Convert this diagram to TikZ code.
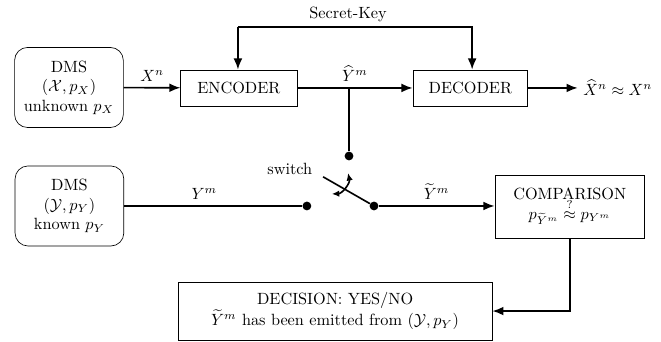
\documentclass[tikz,border=0pt]{standalone}
\usepackage{amsmath,amssymb}
\usetikzlibrary{arrows.meta}
\tikzset{
  block/.style={draw, rectangle, align=center},
  source/.style={draw, rectangle, rounded corners=8pt, align=center, minimum width=2.35cm, minimum height=1.73cm},
  dot/.style={circle, fill, inner sep=0pt, minimum size=0.19cm},
  wire/.style={line width=1pt},
  link/.style={wire, -{Latex[length=2.4mm,width=1.9mm]}}
}
\begin{document}
\begin{tikzpicture}
\useasboundingbox (0,0) rectangle (14.28,-7.37);
% sources
\node[source] (dmsx) at (1.49,-1.89) {DMS\\$(\mathcal{X},p_X)$\\unknown $p_X$};
\node[source] (dmsy) at (1.50,-4.45) {DMS\\$(\mathcal{Y},p_Y)$\\known $p_Y$};
% coder blocks
\node[block, minimum width=2.51cm, minimum height=0.78cm] (enc) at (5.16,-1.90) {ENCODER};
\node[block, minimum width=2.48cm, minimum height=0.78cm] (dec) at (10.16,-1.90) {DECODER};
\node[block, minimum width=3.24cm, minimum height=1.36cm] (comp) at (12.31,-4.46) {COMPARISON\\[-2pt]$p_{\widetilde{Y}^m}\stackrel{?}{\approx}p_{Y^m}$};
\node[block, minimum width=6.78cm, minimum height=1.25cm] (decis) at (7.24,-6.72) {DECISION: YES/NO\\$\widetilde{Y}^m$ has been emitted from $(\mathcal{Y},p_Y)$};
% secret key
\coordinate (keyl) at (5.14,-0.58);
\coordinate (keyr) at (10.20,-0.58);
\node (key) at (7.52,-0.32) {Secret-Key};
\draw[link] (keyl) -- (keyr) -- (dec.north -| keyr);
\draw[link] (keyl) -- (enc.north -| keyl);
% main chain
\draw[link] (dmsx) -- node[above]{$X^n$} (enc);
\draw[link] (enc) -- node[above]{$\widehat{Y}^m$} (dec);
\node[anchor=west] (out) at (12.48,-1.90) {$\widehat{X}^n\approx X^n$};
\draw[link] (dec) -- (out.west);
% switch
\coordinate (tap) at (7.54,-1.90);
\node[dot] (top) at (7.54,-3.37) {};
\node[dot] (left) at (6.63,-4.45) {};
\node[dot] (right) at (8.08,-4.45) {};
\coordinate (arm) at (6.98,-3.82);
\node[anchor=east] (sw) at (6.87,-3.65) {switch};
\draw[wire] (tap) -- (top);
\draw[wire] (dmsy) -- node[above, pos=0.45]{$Y^m$} (left);
\draw[wire] (right) -- (arm);
\draw[wire, {Latex[length=1.6mm,width=1.4mm]}-{Latex[length=1.6mm,width=1.4mm]}] (7.17,-4.19) to[bend right=50] (7.52,-3.74);
\draw[link] (right) -- node[above]{$\widetilde{Y}^m$} (comp.west |- right);
\draw[link] (comp.south) |- (decis.east);
\end{tikzpicture}
\end{document}
